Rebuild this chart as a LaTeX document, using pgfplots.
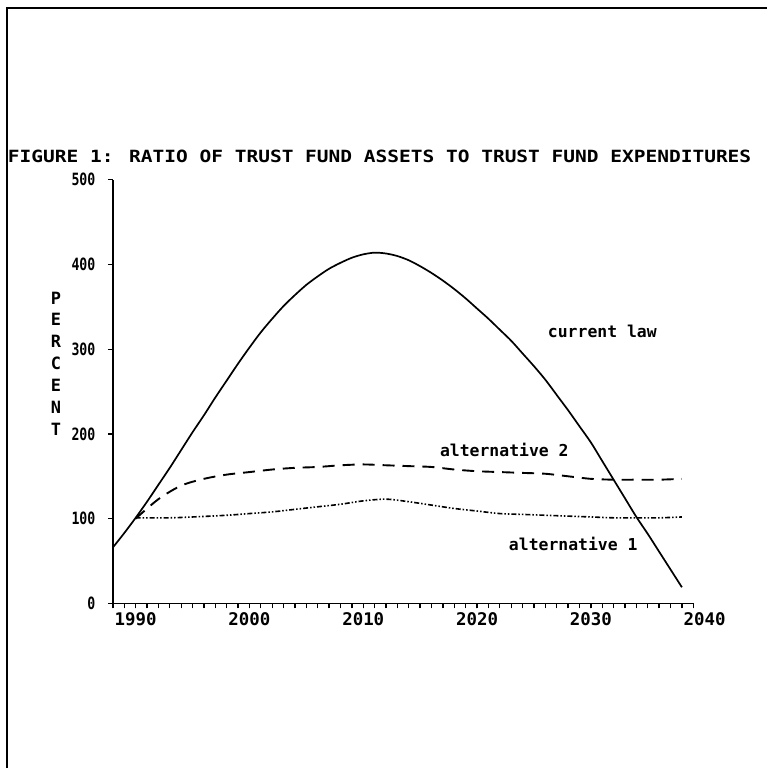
\documentclass[border=0pt]{standalone}
\usepackage{pgfplots}
\pgfplotsset{compat=1.18}
\usepackage{fontspec}
\setmainfont{DejaVu Sans Mono}
\setsansfont{DejaVu Sans Mono}
\begin{document}
\begin{tikzpicture}[x=1bp,y=1bp]
\path (0,0) rectangle (768,769);
\draw[line width=1.6bp] (7,0) -- (7,761) -- (768,761);
\node[anchor=center] at (380,612) {\resizebox{744bp}{12.5bp}{\bfseries FIGURE 1: RATIO OF TRUST FUND ASSETS TO TRUST FUND EXPENDITURES}};
\begin{axis}[
  at={(113bp,165bp)}, anchor=south west,
  scale only axis, width=581bp, height=424bp,
  xmin=1988, xmax=2039, ymin=0, ymax=500,
  axis x line=bottom, axis y line=left,
  axis line style={line width=1.4bp, -},
  xtick={1990,2000,2010,2020,2030},
  minor xtick={1988,...,2039},
  ytick={0,100,...,500},
  tick style={black, line width=1.3bp},
  major tick length=5bp, minor tick length=5bp,
  tick align=outside,
  x tick label style={font=\fontsize{17.5}{17.5}\bfseries, yshift=-1bp},
  y tick label style={font=\fontsize{17}{17}\bfseries, xshift=-9bp},
  /pgf/number format/assume math mode=true,
  xticklabel={\pgfmathprintnumber[1000 sep={}]{\tick}},
  yticklabel={\scalebox{0.78}[1]{\pgfmathprintnumber{\tick}}},
  clip=false,
]
% current law
\addplot[black, line width=1.7bp, smooth] coordinates {
(1988,66) (1989,83) (1990,101) (1991,120) (1992,140) (1993,160) (1994,181) (1995,202)
(1996,222) (1997,243) (1998,263) (1999,283) (2000,302) (2001,320) (2002,336) (2003,351)
(2004,364) (2005,376) (2006,386) (2007,395) (2008,402) (2009,408) (2010,412) (2011,414)
(2012,413) (2013,410) (2014,405) (2015,398) (2016,390) (2017,381) (2018,371) (2019,360)
(2020,348) (2021,336) (2022,323) (2023,310) (2024,295) (2025,280) (2026,264) (2027,246)
(2028,228) (2029,209) (2030,190) (2031,168) (2032,146) (2033,124) (2034,102) (2035,82)
(2036,61) (2037,40) (2038,19)};
% alternative 2
\addplot[black, line width=1.9bp, dash pattern=on 12bp off 8bp, smooth] coordinates {
(1990,100) (1992,123) (1994,139) (1996,147) (1998,152) (2000,155) (2002,158) (2004,160)
(2006,161) (2008,163) (2010,164) (2012,163) (2014,162) (2016,161) (2018,158) (2020,156)
(2022,155) (2024,154) (2026,153) (2028,150) (2030,147) (2032,146) (2034,146) (2036,146) (2038,147)};
% alternative 1
\addplot[black, line width=1.6bp, dash pattern=on 5bp off 2bp on 1.5bp off 2bp on 1.5bp off 2bp, smooth] coordinates {
(1990,101) (1993,101) (1995,102) (1998,104) (2000,106) (2002,108) (2004,111) (2006,114)
(2008,117) (2010,121) (2012,123) (2014,120) (2016,116) (2018,112) (2020,109) (2022,106)
(2024,105) (2026,104) (2028,103) (2030,102) (2032,101) (2034,101) (2036,101) (2038,102)};
\node[anchor=north, font=\fontsize{17.5}{17.5}\bfseries, yshift=-6bp] at (axis cs:2040,0) {2040};
\end{axis}
\node[anchor=west, font=\fontsize{16.5}{16.5}\bfseries] at (545,437) {current law};
\node[anchor=west, font=\fontsize{16.5}{16.5}\bfseries] at (437,319) {alternative 2};
\node[anchor=west, font=\fontsize{16.5}{16.5}\bfseries] at (506,224) {alternative 1};
\node[anchor=center, font=\fontsize{17}{22}\bfseries, align=center] at (56,405) {P\\E\\R\\C\\E\\N\\T};
\end{tikzpicture}
\end{document}
